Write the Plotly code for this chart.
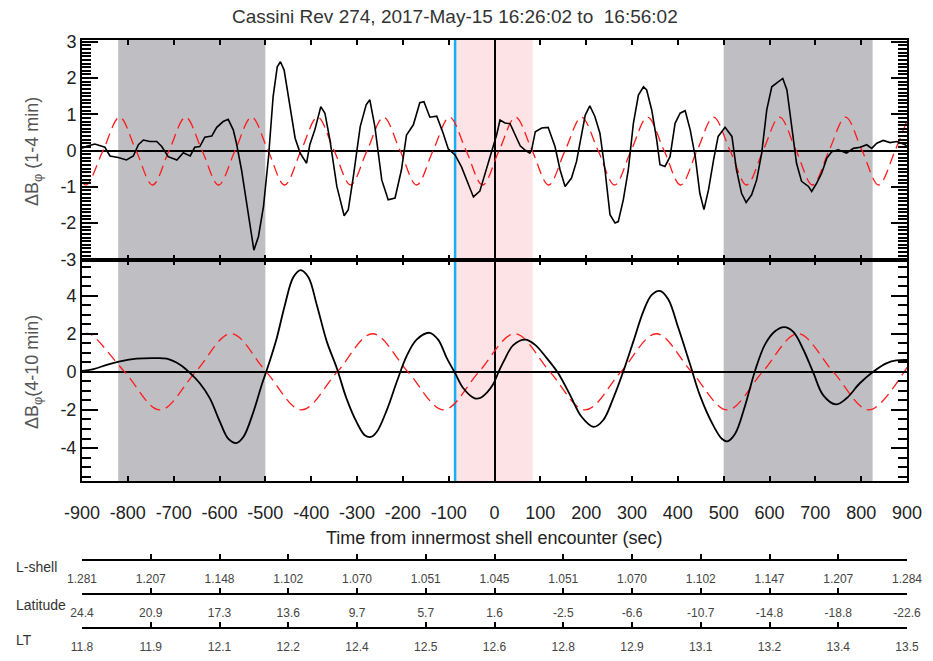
import plotly.graph_objects as go

# ---------------- data ----------------
# Top panel: delta B_phi filtered 1-4 min (black trace)
t_top = [-900, -890, -872, -861, -850, -839, -821, -803, -788, -777, -766, -752, -737, -726, -712,
         -693, -679, -664, -654, -643, -632, -617, -606, -592, -581, -570, -563, -552, -541, -530,
         -525, -515, -504, -493, -483, -474, -467, -459, -448, -435, -424, -410, -403, -392, -379,
         -370, -359, -344, -328, -319, -308, -293, -280, -272, -261, -246, -232, -217, -203, -192,
         -177, -163, -154, -141, -126, -112, -101, -86, -72, -61, -50, -46, -32, -17, -3,
         5, 12, 23, 34, 45, 56, 68, 77, 81, 89, 103, 117, 132, 143, 154,
         168, 179, 187, 198, 208, 219, 230, 241, 252, 263, 270, 281, 292, 303, 314,
         325, 332, 343, 354, 361, 372, 383, 394, 405, 416, 427, 438, 448, 457, 467,
         478, 488, 503, 518, 528, 539, 549, 561, 572, 583, 594, 605, 616, 629, 638,
         648, 659, 670, 685, 692, 703, 714, 725, 736, 750, 768, 783, 798, 812, 823,
         834, 848, 863, 878, 896, 900]
b_top = [0.06, 0.12, 0.18, 0.13, 0.09, -0.15, -0.19, -0.26, -0.15, 0.16, 0.29, 0.25, 0.25, 0.11, -0.17,
         -0.26, -0.06, -0.15, 0.09, 0.11, 0.37, 0.40, 0.64, 0.80, 0.86, 0.57, 0.20, -0.53, -1.45, -2.37,
         -2.75, -2.37, -1.54, -0.17, 1.49, 2.31, 2.45, 2.22, 1.30, 0.34, -0.07, -0.35, 0.16, 0.57, 1.21,
         1.03, 0.29, -0.99, -1.80, -1.63, -0.72, 0.66, 1.26, 1.40, 0.66, -0.81, -1.36, -1.31, -0.53, 0.43,
         0.71, 1.32, 1.35, 0.92, 0.95, 0.48, 0.05, -0.12, -0.45, -0.81, -1.17, -1.28, -1.12, -0.50, 0.05,
         0.45, 0.84, 0.76, 0.74, 0.45, 0.13, 0.00, -0.07, 0.02, 0.52, 0.62, 0.64, 0.11, -0.53, -0.99,
         -0.76, -0.30, 0.29, 0.98, 1.23, 0.94, 0.48, -0.53, -1.77, -2.00, -1.96, -1.36, -0.53, 0.75, 1.53,
         1.76, 1.67, 1.12, 0.29, -0.39, -0.44, -0.17, 0.75, 1.03, 1.10, 0.57, -0.17, -1.18, -1.63, -1.08,
         -0.26, 0.39, 0.64, 0.39, -0.53, -1.18, -1.43, -1.22, -0.81, -0.07, 1.12, 1.76, 1.87, 1.99, 1.67,
         0.75, -0.35, -0.85, -0.99, -1.13, -0.90, -0.62, -0.21, -0.03, 0.02, -0.07, 0.06, 0.09, 0.16, 0.06,
         0.20, 0.28, 0.22, 0.25, 0.16, 0.11]

# Top panel: model wave (red dashed), extrema and zero crossings
t_model_top = [-900, -890, -854, -818, -782, -746, -710, -674, -638, -602, -566, -530, -494, -458,
               -422, -386, -350, -314, -278, -242, -206, -170, -134, -98, -62, -26, 10, 46,
               82, 118, 154, 190, 226, 262, 298, 334, 370, 406, 442, 478, 514, 550, 586,
               622, 658, 694, 730, 766, 802, 838, 874, 900]
model_top = [-0.88, -0.95, 0, 0.92, 0, -0.95, 0, 0.92, 0, -0.95, 0, 0.92, 0, -0.95,
             0, 0.92, 0, -0.95, 0, 0.92, 0, -0.95, 0, 0.92, 0, -0.95, 0, 0.92,
             0, -0.95, 0, 0.92, 0, -0.95, 0, 0.92, 0, -0.95, 0, 0.92, 0, -0.95, 0,
             0.92, 0, -0.95, 0, 0.92, 0, -0.95, 0, 0.83]

# Bottom panel: delta B_phi filtered 4-10 min (black trace)
t_bot = [-900, -875, -846, -817, -781, -744, -715, -686, -664, -643, -621, -599, -581, -564, -548,
         -526, -508, -493, -475, -457, -439, -423, -406, -388, -366, -344, -323, -301, -283, -270,
         -257, -235, -213, -192, -170, -142, -123, -104, -86, -68, -43, -30, -17, -3, 9,
         20, 41, 67, 88, 114, 139, 165, 190, 216, 237, 259, 281, 303, 325, 343,
         361, 379, 401, 427, 448, 477, 496, 508, 525, 547, 568, 590, 612, 632, 652,
         674, 696, 717, 745, 768, 797, 827, 856, 877, 900]
b_bot = [0.05, 0.14, 0.37, 0.55, 0.69, 0.72, 0.69, 0.37, -0.07, -0.60, -1.39, -2.63, -3.51, -3.74, -3.42,
         -2.10, -0.69, 0.37, 1.78, 3.54, 4.96, 5.34, 4.96, 3.54, 1.60, 0.19, -1.39, -2.63, -3.33, -3.42,
         -3.16, -2.01, -0.51, 0.81, 1.69, 2.05, 1.69, 0.72, -0.07, -0.86, -1.39, -1.36, -1.10, -0.65, 0.00,
         0.55, 1.40, 1.69, 1.43, 0.72, -0.07, -1.22, -2.36, -2.89, -2.54, -1.39, 0.02, 1.60, 3.19, 4.04,
         4.25, 3.81, 2.31, 0.37, -1.22, -2.80, -3.51, -3.65, -3.25, -1.75, 0.02, 1.43, 2.13, 2.35, 2.10,
         1.16, -0.07, -1.22, -1.71, -1.39, -0.60, 0.02, 0.46, 0.60, 0.62]

# Bottom panel: model wave (red dashed), extrema and zero crossings
t_model_bot = [-900, -884, -807, -730, -652, -575, -498, -421, -343, -266, -189, -111, -34,
               44, 121, 198, 276, 353, 430, 508, 585, 662, 739, 817, 894, 900]
model_bot = [1.95, 2, 0, -2, 0, 2, 0, -2, 0, 2, 0, -2, 0,
             2, 0, -2, 0, 2, 0, -2, 0, 2, 0, -2, 0, 0.24]

# Axis ticks
x_tickvals = [-900, -800, -700, -600, -500, -400, -300, -200, -100, 0,
              100, 200, 300, 400, 500, 600, 700, 800, 900]
x_ticktext = ["-900", "-800", "-700", "-600", "-500", "-400", "-300", "-200", "-100", "0",
              "100", "200", "300", "400", "500", "600", "700", "800", "900"]
y1_tickvals = [-3, -2, -1, 0, 1, 2, 3]
y1_ticktext = ["-3", "-2", "-1", "0", "1", "2", "3"]
y2_tickvals = [-4, -2, 0, 2, 4]
y2_ticktext = ["-4", "-2", "0", "2", "4"]

# Ephemeris table
table_times = [-900, -750, -600, -450, -300, -150, 0, 150, 300, 450, 600, 750, 900]
lshell = ["1.281", "1.207", "1.148", "1.102", "1.070", "1.051", "1.045",
          "1.051", "1.070", "1.102", "1.147", "1.207", "1.284"]
latitude = ["24.4", "20.9", "17.3", "13.6", "9.7", "5.7", "1.6",
            "-2.5", "-6.6", "-10.7", "-14.8", "-18.8", "-22.6"]
local_time = ["11.8", "11.9", "12.1", "12.2", "12.4", "12.5", "12.6",
              "12.8", "12.9", "13.1", "13.2", "13.4", "13.5"]

# Highlighted intervals
gray_spans = [(-821, -500), (500, 825)]
pink_span = (-86, 83)
blue_time = -86

title_text = "Cassini Rev 274, 2017-May-15 16:26:02 to  16:56:02"

# ---------------- layout geometry ----------------
W, H = 933, 661
ML, MR, MT, MB = 82, 26, 40, 10
PW = W - ML - MR
PH = H - MT - MB


def py(p):
    return (H - MB - p) / PH


def px(p):
    return (p - ML) / PW


top_dom = [py(260), 1.0]
bot_dom = [py(481), py(260)]
top_range = [-3.02, 3.05]
bot_range = [-5.73, 5.87]

# minor tick positions (style only)
minor_top = [k / 10 for k in range(-30, 31) if k % 10 != 0]
minor_bot = [k / 2 for k in range(-11, 12) if k % 4 != 0]

FONT = "Liberation Sans, Arial, Helvetica, sans-serif"

fig = go.Figure()

fig.add_trace(go.Scatter(x=t_model_top, y=model_top, mode="lines",
                         line=dict(color="#ff1a1a", width=1.3, dash="11px,6px", shape="spline", smoothing=1.0),
                         xaxis="x", yaxis="y", showlegend=False, hoverinfo="skip"))
fig.add_trace(go.Scatter(x=t_top, y=b_top, mode="lines",
                         line=dict(color="black", width=1.6),
                         xaxis="x", yaxis="y", showlegend=False))
fig.add_trace(go.Scatter(x=t_model_bot, y=model_bot, mode="lines",
                         line=dict(color="#ff1a1a", width=1.3, dash="11px,6px", shape="spline", smoothing=1.0),
                         xaxis="x2", yaxis="y2", showlegend=False, hoverinfo="skip"))
fig.add_trace(go.Scatter(x=t_bot, y=b_bot, mode="lines",
                         line=dict(color="black", width=1.8, shape="spline", smoothing=1.0),
                         xaxis="x2", yaxis="y2", showlegend=False))

# invisible traces to activate the ephemeris axes
for xa in ["x3", "x4", "x5"]:
    fig.add_trace(go.Scatter(x=[0], y=[0], mode="markers", marker=dict(opacity=0),
                             xaxis=xa, yaxis="y", showlegend=False, hoverinfo="skip"))

frame = dict(showline=True, linecolor="black", linewidth=2, mirror="ticks",
             ticks="inside", tickcolor="black", showgrid=False, automargin=False,
             zeroline=True, zerolinecolor="black", zerolinewidth=2)

xcommon = dict(frame, range=[-900, 900], tickmode="array", tickvals=x_tickvals,
               ticktext=x_ticktext, ticklen=5, tickwidth=1.5)

fig.update_layout(
    width=W, height=H,
    margin=dict(l=ML, r=MR, t=MT, b=MB, autoexpand=False),
    paper_bgcolor="white", plot_bgcolor="white",
    font=dict(family=FONT, color="#222", size=18),
    xaxis=dict(xcommon, domain=[0, 1], anchor="y", showticklabels=False),
    xaxis2=dict(xcommon, domain=[0, 1], anchor="y2", showticklabels=True,
                tickfont=dict(size=18, color="#222"), ticklabelstandoff=14),
    yaxis=dict(frame, domain=top_dom, anchor="x", range=top_range,
               tickmode="array", tickvals=y1_tickvals, ticktext=y1_ticktext,
               ticklen=16, tickwidth=2, tickfont=dict(size=18, color="#222"),
               minor=dict(tickmode="array", tickvals=minor_top, ticks="inside",
                          ticklen=9, tickwidth=1.5, tickcolor="black", showgrid=False)),
    yaxis2=dict(frame, domain=bot_dom, anchor="x2", range=bot_range,
                tickmode="array", tickvals=y2_tickvals, ticktext=y2_ticktext,
                ticklen=16, tickwidth=2, tickfont=dict(size=18, color="#222"),
                minor=dict(tickmode="array", tickvals=minor_bot, ticks="inside",
                           ticklen=9, tickwidth=1.5, tickcolor="black", showgrid=False)),
)

table_rows = [("xaxis3", lshell, 559.5), ("xaxis4", latitude, 593.5), ("xaxis5", local_time, 627.5)]
for name, labels, ypix in table_rows:
    fig.update_layout({name: dict(overlaying="x", anchor="free", position=py(ypix), side="bottom",
                                  range=[-900, 900], tickmode="array", tickvals=table_times,
                                  ticktext=labels, ticks="inside", ticklen=5, tickwidth=1.5,
                                  tickcolor="black", showline=True, linecolor="black", linewidth=1.5,
                                  showgrid=False, zeroline=False, automargin=False,
                                  tickfont=dict(size=12, color="#444"), ticklabelstandoff=8)})

# shaded intervals and marker line
shapes = []
for a, b in gray_spans:
    shapes.append(dict(type="rect", xref="x", yref="paper", x0=a, x1=b, y0=bot_dom[0], y1=1,
                       fillcolor="#bebec3", line=dict(width=0), layer="below"))
shapes.append(dict(type="rect", xref="x", yref="paper", x0=pink_span[0], x1=pink_span[1],
                   y0=bot_dom[0], y1=1, fillcolor="#fde3e5", line=dict(width=0), layer="below"))
shapes.append(dict(type="line", xref="x", yref="paper", x0=blue_time, x1=blue_time,
                   y0=bot_dom[0], y1=1, line=dict(color="#18aef0", width=2.5), layer="below"))
fig.update_layout(shapes=shapes)

annotations = [
    dict(text=title_text, xref="paper", yref="paper", x=px(455), y=py(16), showarrow=False,
         xanchor="center", yanchor="middle", font=dict(size=19, color="#333")),
    dict(text="ΔB<sub>φ</sub> (1-4 min)", xref="paper", yref="paper", x=px(33), y=py(152),
         textangle=-90, showarrow=False, xanchor="center", yanchor="middle",
         font=dict(size=18, color="#555")),
    dict(text="ΔB<sub>φ</sub>(4-10 min)", xref="paper", yref="paper", x=px(33), y=py(372),
         textangle=-90, showarrow=False, xanchor="center", yanchor="middle",
         font=dict(size=18, color="#555")),
    dict(text="Time from innermost shell encounter (sec)", xref="paper", yref="paper",
         x=px(494), y=py(538), showarrow=False, xanchor="center", yanchor="middle",
         font=dict(size=18, color="#222")),
    dict(text="L-shell", xref="paper", yref="paper", x=px(14), y=py(567), showarrow=False,
         xanchor="left", yanchor="middle", font=dict(size=14, color="#333")),
    dict(text="Latitude", xref="paper", yref="paper", x=px(14), y=py(605), showarrow=False,
         xanchor="left", yanchor="middle", font=dict(size=14, color="#333")),
    dict(text="LT", xref="paper", yref="paper", x=px(14), y=py(640), showarrow=False,
         xanchor="left", yanchor="middle", font=dict(size=14, color="#333")),
]
fig.update_layout(annotations=annotations)

fig.write_html("out.html")
